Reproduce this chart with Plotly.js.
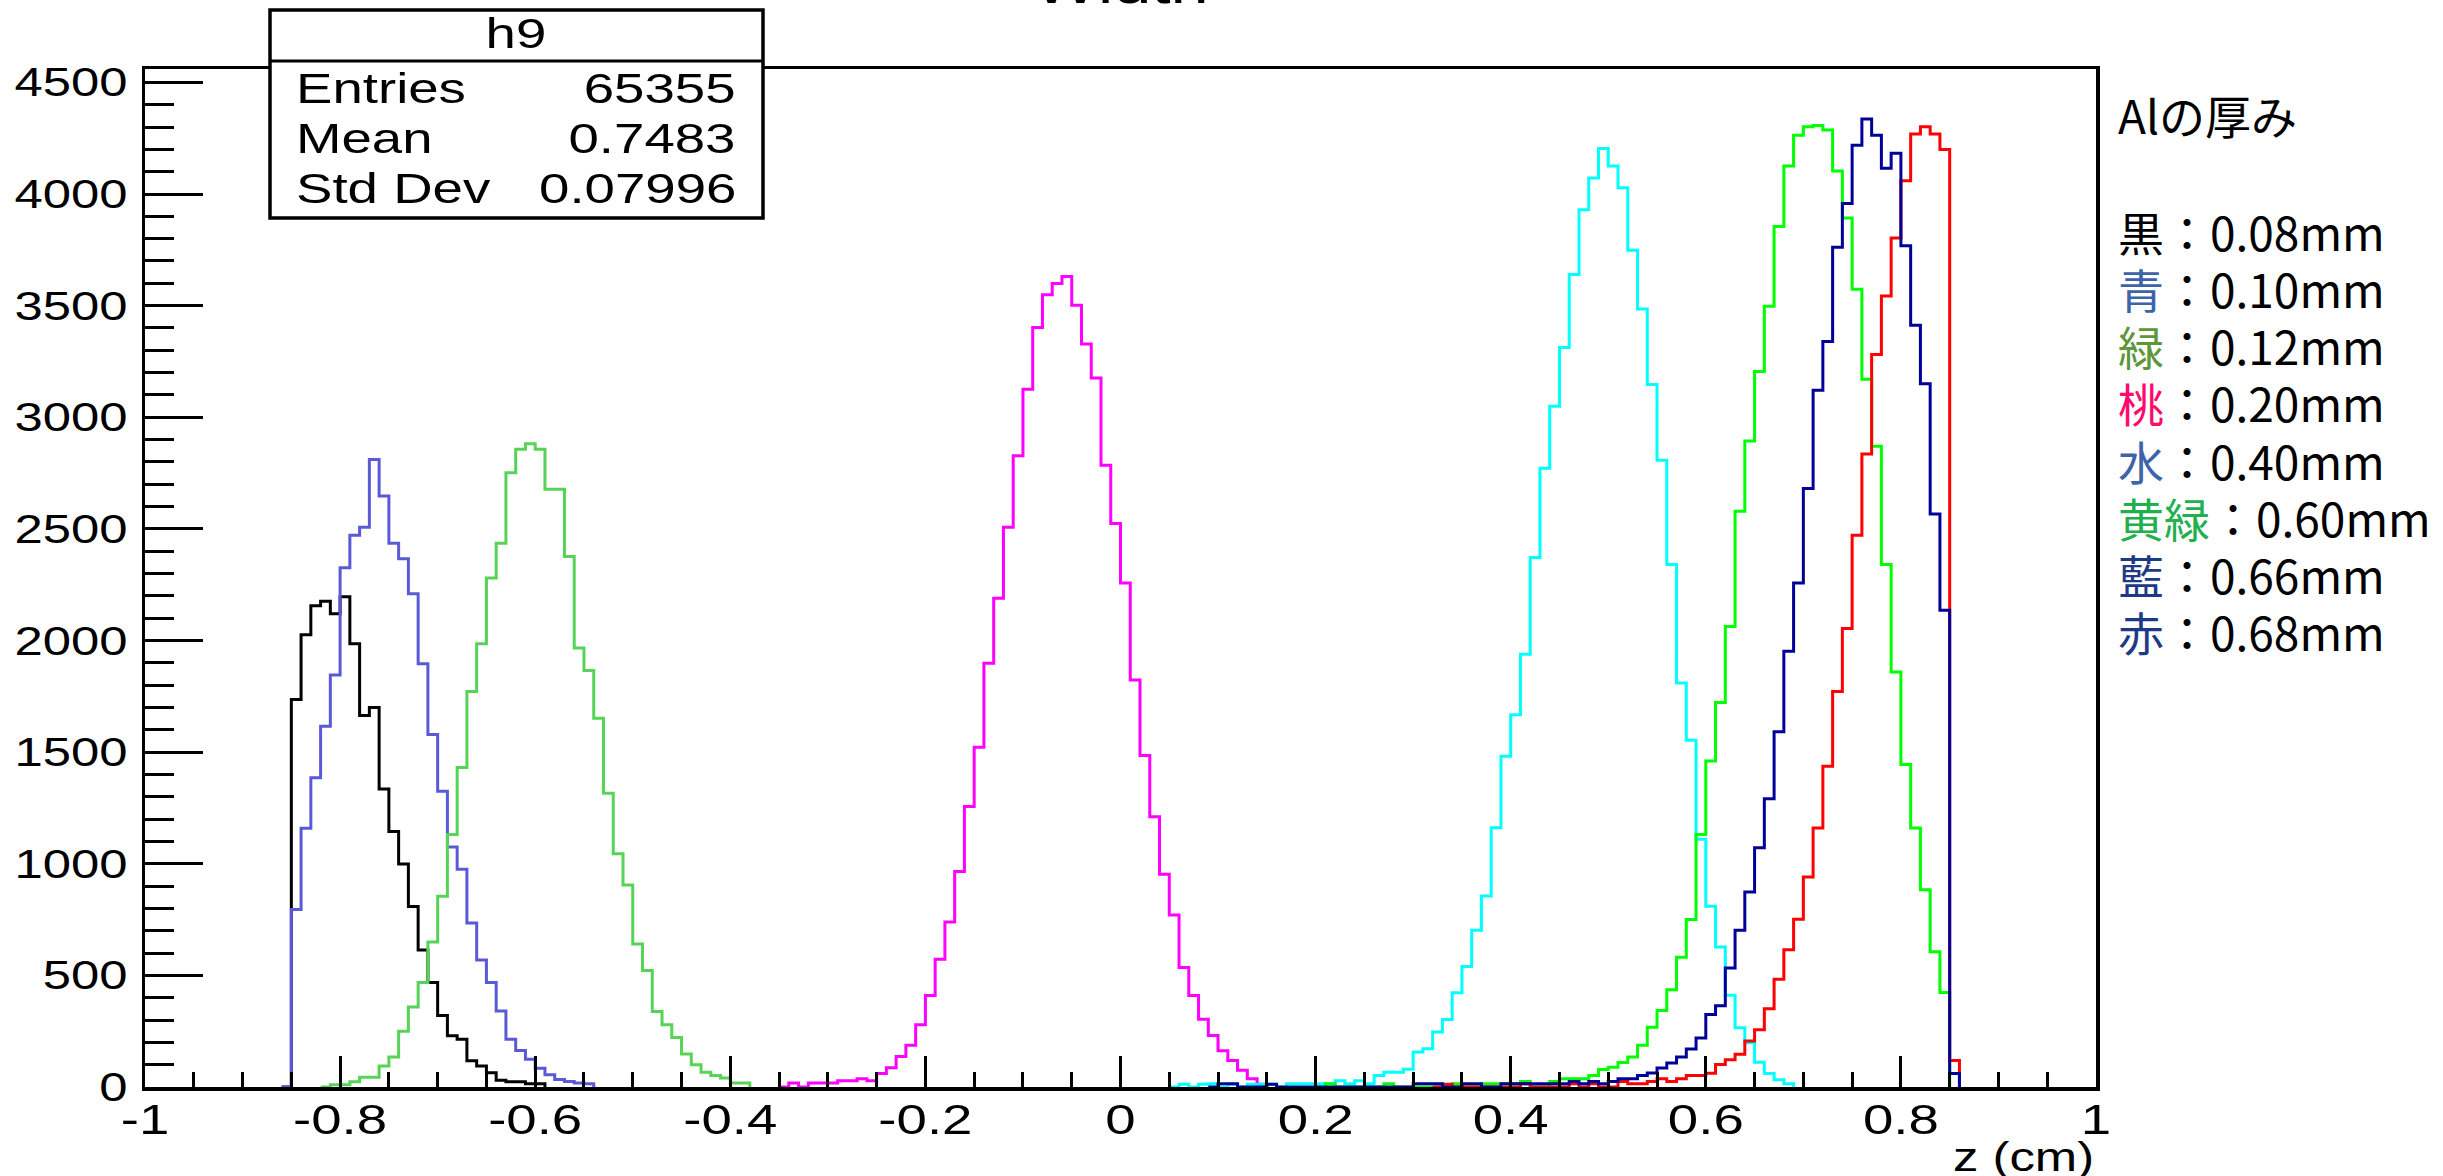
<!DOCTYPE html>
<html>
<head>
<meta charset="utf-8">
<script src="https://cdn.plot.ly/plotly-3.0.1.min.js"></script>
<style>html,body{margin:0;padding:0;background:#fff;}</style>
</head>
<body>
<div id="chart" style="width:2443px;height:1176px;"></div>
<script>
// ---- data (bin width 0.01 cm, counts per bin starting at the given lower edge) ----
const binWidth = 0.01;

const blackStart = -0.85;
const blackCounts = [1736, 2026, 2156, 2176, 2120, 2196, 1986, 1664, 1700, 1335, 1145, 999, 809, 614, 468, 320, 230, 214, 118, 94, 64, 30, 24, 24, 14, 14];

const blueStart = -0.85;
const blueCounts = [795, 1159, 1385, 1616, 1846, 2326, 2472, 2507, 2811, 2647, 2436, 2366, 2210, 1896, 1579, 1325, 1075, 975, 735, 569, 468, 340, 214, 164, 124, 84, 55, 34, 25, 18, 14];

const lgreenStart = -0.81;
const lgreenCounts = [10, 10, 24, 44, 44, 94, 134, 250, 358, 468, 649, 855, 1131, 1431, 1772, 1986, 2280, 2436, 2751, 2857, 2881, 2857, 2677, 2677, 2376, 1966, 1866, 1652, 1316, 1045, 905, 641, 522, 338, 279, 222, 148, 100, 66, 51, 40, 18, 18];

const magentaStart = -0.34;
const magentaCounts = [18, 0, 18, 18, 18, 28, 28, 37, 28, 60, 86, 137, 187, 279, 410, 572, 739, 965, 1256, 1522, 1898, 2189, 2507, 2828, 3126, 3402, 3549, 3599, 3631, 3502, 3328, 3176, 2785, 2524, 2258, 1823, 1485, 1211, 953, 771, 535, 410, 303, 231, 162, 119, 75, 37, 12];

const cyanStart = 0.06;
const cyanCounts = [12, 0, 12, 15, 0, 12, 0, 12, 12, 12, 0, 15, 15, 15, 15, 15, 28, 15, 28, 15, 51, 66, 66, 80, 157, 171, 246, 302, 422, 540, 702, 856, 1161, 1482, 1667, 1938, 2372, 2772, 3049, 3312, 3639, 3930, 4072, 4204, 4126, 4028, 3748, 3485, 3147, 2807, 2340, 1810, 1553, 1110, 810, 627, 411, 265, 198, 111, 61, 32, 15];

const greenStart = 0.21;
const greenCounts = [15, 0, 0, 0, 0, 0, 15, 0, 0, 0, 0, 0, 0, 15, 0, 0, 15, 15, 15, 15, 25, 0, 0, 25, 37, 37, 37, 51, 78, 88, 110, 134, 187, 268, 343, 436, 581, 750, 1131, 1460, 1722, 2063, 2579, 2894, 3205, 3497, 3855, 4126, 4263, 4301, 4307, 4287, 4103, 3893, 3573, 3170, 2870, 2340, 1859, 1445, 1160, 883, 606, 423];

const redStart = 0.33;
const redCounts = [12, 0, 0, 0, 0, 0, 0, 0, 15, 0, 0, 0, 0, 15, 0, 15, 0, 0, 25, 15, 15, 25, 37, 25, 37, 51, 51, 62, 101, 122, 147, 206, 257, 351, 483, 615, 751, 941, 1160, 1437, 1772, 2054, 2471, 2835, 3281, 3543, 3803, 4059, 4269, 4301, 4269, 4199, 119];

const navyStart = 0.10;
const navyCounts = [15, 15, 0, 0, 0, 12, 0, 0, 0, 0, 0, 0, 0, 0, 0, 0, 0, 0, 0, 0, 15, 15, 15, 0, 0, 15, 15, 0, 0, 15, 15, 15, 15, 15, 15, 15, 25, 15, 25, 15, 25, 37, 37, 51, 63, 85, 107, 134, 170, 220, 325, 364, 533, 702, 874, 1072, 1291, 1591, 1952, 2258, 2681, 3121, 3339, 3762, 3957, 4219, 4336, 4263, 4115, 4183, 3768, 3412, 3150, 2567, 2136, 61];

const legendTitle = "Alの厚み";
const legendKanji = ["黒", "青", "緑", "桃", "水", "黄緑", "藍", "赤"];
const legendValues = ["0.08mm", "0.10mm", "0.12mm", "0.20mm", "0.40mm", "0.60mm", "0.66mm", "0.68mm"];
const legendKanjiColors = ["#000000", "#3E63A8", "#5E963A", "#FF0A6C", "#3E63A8", "#22B04E", "#1F3A84", "#1F3A84"];

const statsName = "h9";
const statsLabels = ["Entries", "Mean", "Std Dev"];
const statsValues = ["65355", "0.7483", "0.07996"];

const xTickVals = [-1, -0.8, -0.6, -0.4, -0.2, 0, 0.2, 0.4, 0.6, 0.8, 1];
const xTickText = ["-1", "-0.8", "-0.6", "-0.4", "-0.2", "0", "0.2", "0.4", "0.6", "0.8", "1"];

// ---- build step outlines ----
function steps(start, counts) {
  const xs = [Math.round((start - binWidth) * 1000) / 1000];
  const ys = [0];
  counts.forEach((c, i) => { xs.push(Math.round((start + i * binWidth) * 1000) / 1000); ys.push(c); });
  xs.push(Math.round((start + counts.length * binWidth) * 1000) / 1000);
  ys.push(0);
  return {xs, ys};
}

const seriesDefs = [
  {start: blackStart, counts: blackCounts, color: "#000000"},
  {start: blueStart, counts: blueCounts, color: "#5a5ad9"},
  {start: lgreenStart, counts: lgreenCounts, color: "#57d357"},
  {start: magentaStart, counts: magentaCounts, color: "#ff00ff"},
  {start: cyanStart, counts: cyanCounts, color: "#00ffff"},
  {start: greenStart, counts: greenCounts, color: "#00ff00"},
  {start: redStart, counts: redCounts, color: "#ff0000"},
  {start: navyStart, counts: navyCounts, color: "#000099"}
];

const traces = seriesDefs.map(s => {
  const st = steps(s.start, s.counts);
  return {x: st.xs, y: st.ys, type: "scatter", mode: "lines",
          line: {color: s.color, width: 3, shape: "hv"}, hoverinfo: "skip", showlegend: false};
});

// ---- geometry helpers (pixel -> paper) ----
const W = 2443, H = 1176;
const L = 145, R = 2096, T = 69, B = 1087;
const px = p => (p - L) / (R - L);
const py = p => (B - p) / (B - T);

const rootFont = "Liberation Sans, Arial, Helvetica, sans-serif";
const cjkFont = "Noto Sans CJK JP, Noto Sans, sans-serif";
const ROOT_STRETCH = 1.27;

const annotations = [];
const stretchModes = [];   // per annotation: null (no stretch) or 'left'|'right'|'center'
function addAnn(a, mode) { annotations.push(a); stretchModes.push(mode); }

// title (cut off at top)
addAnn({text: "Width", xref: "paper", yref: "paper", x: 0.5, y: py(16), xanchor: "center", yanchor: "bottom",
  showarrow: false, font: {family: rootFont, size: 54, color: "#000"}}, "center");
// x-axis title
addAnn({text: "z (cm)", xref: "paper", yref: "paper", x: 1, y: py(1157), xanchor: "right", yanchor: "middle",
  showarrow: false, font: {family: rootFont, size: 40, color: "#000"}}, "right");
// stats box text
addAnn({text: statsName, xref: "paper", yref: "paper", x: px(516), y: py(33), xanchor: "center", yanchor: "middle",
  showarrow: false, font: {family: rootFont, size: 43, color: "#000"}}, "center");
const statRowsY = [88, 138, 188];
statsLabels.forEach((lab, i) => {
  addAnn({text: lab, xref: "paper", yref: "paper", x: px(294), y: py(statRowsY[i]), xanchor: "left", yanchor: "middle",
    showarrow: false, font: {family: rootFont, size: 43, color: "#000"}}, "left");
  addAnn({text: statsValues[i], xref: "paper", yref: "paper", x: px(738), y: py(statRowsY[i]), xanchor: "right", yanchor: "middle",
    showarrow: false, font: {family: rootFont, size: 43, color: "#000"}}, "right");
});
// legend text on the right
addAnn({text: legendTitle, xref: "paper", yref: "paper", x: px(2116), y: py(114), xanchor: "left", yanchor: "middle",
  showarrow: false, font: {family: cjkFont, size: 46, color: "#000"}}, null);
const legendRowsY = [231, 288, 345, 402, 460, 517, 574, 631];
legendKanji.forEach((k, i) => {
  addAnn({text: '<span style="color:' + legendKanjiColors[i] + '">' + k + '</span>：' + legendValues[i],
    xref: "paper", yref: "paper", x: px(2116), y: py(legendRowsY[i]), xanchor: "left", yanchor: "middle",
    showarrow: false, font: {family: cjkFont, size: 46, color: "#000"}}, null);
});

const shapes = [
  {type: "rect", xref: "paper", yref: "paper", x0: px(270), x1: px(763), y0: py(218), y1: py(10),
   fillcolor: "#ffffff", line: {color: "#000", width: 3.5}, layer: "above"},
  {type: "line", xref: "paper", yref: "paper", x0: px(270), x1: px(763), y0: py(61), y1: py(61),
   line: {color: "#000", width: 3}, layer: "above"}
];

const layout = {
  width: W, height: H,
  margin: {l: L, r: W - R, t: T, b: H - B, pad: 0},
  paper_bgcolor: "#fff", plot_bgcolor: "#fff",
  showlegend: false,
  xaxis: {
    range: [-1, 1], tickmode: "array", tickvals: xTickVals, ticktext: xTickText,
    ticks: "inside", ticklen: 31, tickwidth: 3, tickcolor: "#000",
    minor: {tickmode: "linear", tick0: -1, dtick: 0.05, ticks: "inside", ticklen: 15, tickwidth: 3, tickcolor: "#000", showgrid: false},
    showline: true, linewidth: 3.5, linecolor: "#000", mirror: true,
    showgrid: false, zeroline: false, fixedrange: true, ticklabelstandoff: -8,
    tickfont: {family: rootFont, size: 43, color: "#000"}
  },
  yaxis: {
    range: [0, 4560], tickmode: "linear", tick0: 0, dtick: 500,
    ticks: "inside", ticklen: 58, tickwidth: 3, tickcolor: "#000",
    minor: {tickmode: "linear", tick0: 0, dtick: 100, ticks: "inside", ticklen: 29, tickwidth: 3, tickcolor: "#000", showgrid: false},
    showline: true, linewidth: 3.5, linecolor: "#000", mirror: true,
    showgrid: false, zeroline: false, fixedrange: true, ticklabelstandoff: 6,
    tickfont: {family: rootFont, size: 40, color: "#000"}
  },
  annotations: annotations,
  shapes: shapes
};

// horizontal stretch of ROOT-style texts about an anchor point (text stays real SVG text)
function stretchEl(t, sx, mode) {
  const bb = t.getBBox();
  let ax = bb.x + bb.width / 2;
  if (mode === "left") ax = bb.x;
  else if (mode === "right") ax = bb.x + bb.width;
  const ay = bb.y + bb.height / 2;
  const prev = t.getAttribute("transform") || "";
  t.setAttribute("transform", (prev + " translate(" + ax + "," + ay + ") scale(" + sx + ",1) translate(" + (-ax) + "," + (-ay) + ")").trim());
}

Plotly.newPlot("chart", traces, layout, {staticPlot: true, displayModeBar: false}).then(gd => {
  gd.querySelectorAll(".xtick text").forEach(t => stretchEl(t, ROOT_STRETCH, "center"));
  gd.querySelectorAll(".ytick text").forEach(t => stretchEl(t, ROOT_STRETCH, "right"));
  stretchModes.forEach((mode, i) => {
    if (!mode) return;
    const t = gd.querySelector('g.annotation[data-index="' + i + '"] text.annotation-text');
    if (t) stretchEl(t, ROOT_STRETCH, mode);
  });
});
</script>
</body>
</html>
